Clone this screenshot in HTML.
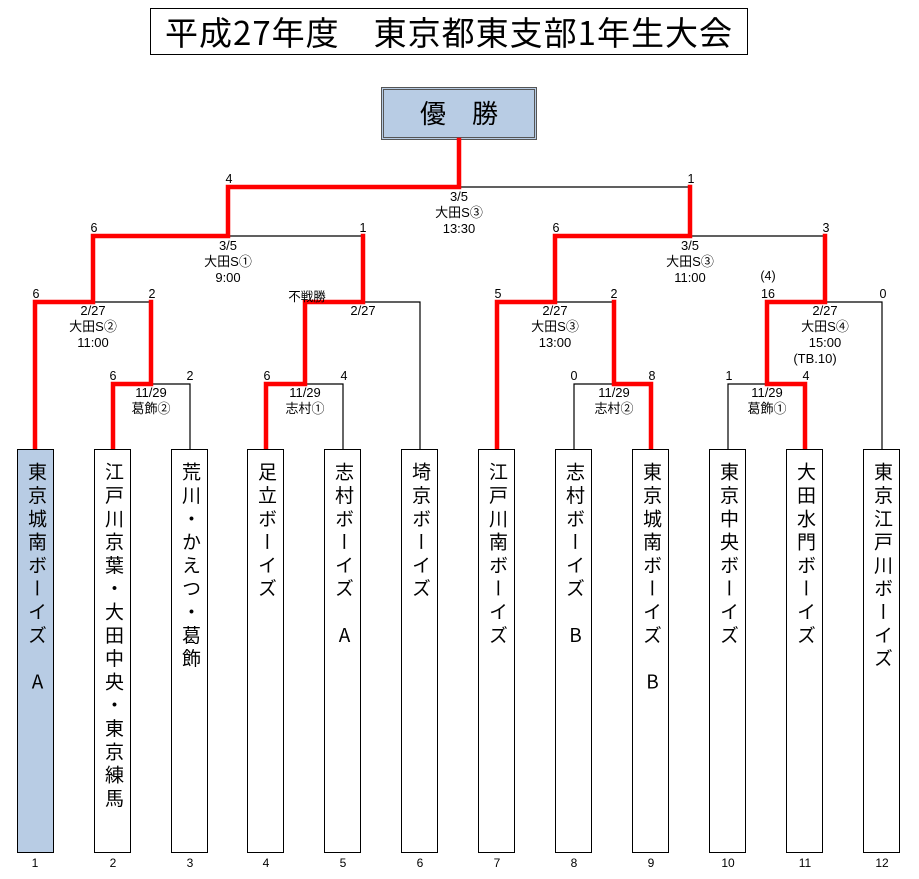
<!DOCTYPE html>
<html><head><meta charset="utf-8"><style>
body{margin:0;background:#fff;width:919px;height:879px;position:relative;overflow:hidden;font-family:"Liberation Sans","Noto Sans CJK JP",sans-serif;color:#000}
.a{position:absolute}
.box{position:absolute;top:449px;width:37px;height:404px;border:1px solid #000;background:#fff;box-sizing:border-box}
.vt{position:absolute;top:12px;left:0;width:37px;writing-mode:vertical-rl;text-orientation:upright;font-size:19px;line-height:36px;letter-spacing:4.3px;font-family:"Noto Sans CJK JP",sans-serif}
.n{position:absolute;font-size:12px;width:30px;text-align:center;top:856px}
.s{position:absolute;font-size:12.5px;width:30px;text-align:center}
.l{position:absolute;font-size:13px;width:100px;text-align:center;line-height:16px;font-family:"Liberation Sans","Noto Sans CJK JP",sans-serif}
</style></head><body>
<div class="a" style="left:150px;top:8px;width:598px;height:47px;border:1px solid #000;box-sizing:border-box;text-align:center;font-size:33px;line-height:44px;font-family:'Noto Sans CJK JP',sans-serif;letter-spacing:1px">平成27年度　東京都東支部1年生大会</div>
<div class="a" style="left:381px;top:87px;width:156px;height:53px;border:3px double #555;box-sizing:border-box;background:#b8cce4;text-align:center;font-size:26px;line-height:46px;font-family:'Noto Sans CJK JP',sans-serif">優　勝</div>
<svg class="a" style="left:0;top:0" width="919" height="879">
<g stroke="#000" stroke-width="1.2" fill="none">
<path d="M459 187H690M228 236H363M690 236H825M93 302H151M363 302H420V449M555 302H614M825 302H882V449M151 384H190V449M305 384H343V449M574 449V384H614M728 449V384H767"/>
</g>
<g stroke="#f00" stroke-width="4.5" fill="none" stroke-linecap="square">
<path d="M459 140V187H228V236H93V302H35V449"/>
<path d="M151 302V384H113V449"/>
<path d="M363 236V302H305V384H266V449"/>
<path d="M690 187V236H555V302H497V449"/>
<path d="M614 302V384H651V449"/>
<path d="M825 236V302H767V384H805V449"/>
</g>
</svg>
<div class="box" style="left:17px;background:#b8cce4"><div class="vt">東京城南ボーイズ　A</div></div>
<div class="box" style="left:94px"><div class="vt">江戸川京葉・大田中央・東京練馬</div></div>
<div class="box" style="left:171px"><div class="vt">荒川・かえつ・葛飾</div></div>
<div class="box" style="left:247px"><div class="vt">足立ボーイズ</div></div>
<div class="box" style="left:324px"><div class="vt">志村ボーイズ　A</div></div>
<div class="box" style="left:401px"><div class="vt">埼京ボーイズ</div></div>
<div class="box" style="left:478px"><div class="vt">江戸川南ボーイズ</div></div>
<div class="box" style="left:555px"><div class="vt">志村ボーイズ　B</div></div>
<div class="box" style="left:632px"><div class="vt">東京城南ボーイズ　B</div></div>
<div class="box" style="left:709px"><div class="vt">東京中央ボーイズ</div></div>
<div class="box" style="left:786px"><div class="vt">大田水門ボーイズ</div></div>
<div class="box" style="left:863px"><div class="vt">東京江戸川ボーイズ</div></div>
<div class="n" style="left:20px">1</div><div class="n" style="left:98px">2</div><div class="n" style="left:175px">3</div><div class="n" style="left:251px">4</div><div class="n" style="left:328px">5</div><div class="n" style="left:405px">6</div><div class="n" style="left:482px">7</div><div class="n" style="left:559px">8</div><div class="n" style="left:636px">9</div><div class="n" style="left:713px">10</div><div class="n" style="left:790px">11</div><div class="n" style="left:867px">12</div>
<div class="s" style="left:214px;top:172px">4</div><div class="s" style="left:676px;top:172px">1</div>
<div class="s" style="left:79px;top:221px">6</div><div class="s" style="left:348px;top:221px">1</div>
<div class="s" style="left:541px;top:221px">6</div><div class="s" style="left:811px;top:221px">3</div>
<div class="s" style="left:21px;top:287px">6</div><div class="s" style="left:137px;top:287px">2</div>
<div class="s" style="left:483px;top:287px">5</div><div class="s" style="left:599px;top:287px">2</div>
<div class="s" style="left:753px;top:287px">16</div><div class="s" style="left:868px;top:287px">0</div>
<div class="s" style="left:753px;top:269px">(4)</div>
<div class="s" style="left:277px;top:286px;width:60px">不戦勝</div>
<div class="s" style="left:98px;top:369px">6</div><div class="s" style="left:175px;top:369px">2</div>
<div class="s" style="left:252px;top:369px">6</div><div class="s" style="left:329px;top:369px">4</div>
<div class="s" style="left:559px;top:369px">0</div><div class="s" style="left:637px;top:369px">8</div>
<div class="s" style="left:714px;top:369px">1</div><div class="s" style="left:791px;top:369px">4</div>
<div class="l" style="left:409px;top:189px">3/5<br>大田S③<br>13:30</div>
<div class="l" style="left:178px;top:238px">3/5<br>大田S①<br>9:00</div>
<div class="l" style="left:640px;top:238px">3/5<br>大田S③<br>11:00</div>
<div class="l" style="left:43px;top:303px">2/27<br>大田S②<br>11:00</div>
<div class="l" style="left:313px;top:303px">2/27</div>
<div class="l" style="left:505px;top:303px">2/27<br>大田S③<br>13:00</div>
<div class="l" style="left:775px;top:303px">2/27<br>大田S④<br>15:00</div>
<div class="l" style="left:765px;top:351px">(TB.10)</div>
<div class="l" style="left:101px;top:385px">11/29<br>葛飾②</div>
<div class="l" style="left:255px;top:385px">11/29<br>志村①</div>
<div class="l" style="left:564px;top:385px">11/29<br>志村②</div>
<div class="l" style="left:717px;top:385px">11/29<br>葛飾①</div>
</body></html>
